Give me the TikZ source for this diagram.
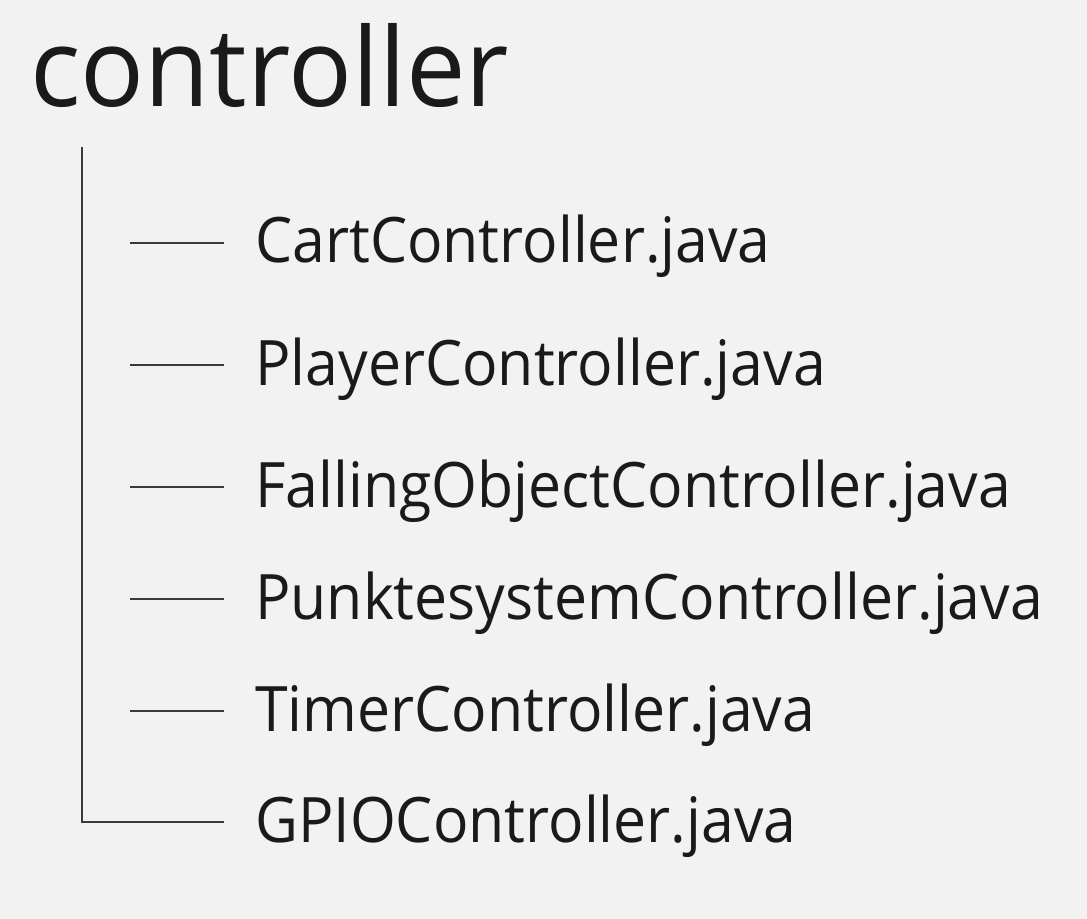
\documentclass[tikz,border=0pt]{standalone}
\usepackage{fontspec}
\setmainfont{Open Sans}
\newfontfamily\titlefont[FakeStretch=0.97]{Open Sans}
\newfontfamily\filefont[FakeStretch=0.94]{Open Sans}
\usetikzlibrary{calc}
\definecolor{bgcol}{HTML}{F2F2F2}
\definecolor{txtcol}{HTML}{1A1A1A}
\definecolor{linecol}{HTML}{3A3A3A}

\begin{document}
\begin{tikzpicture}[x=0.75pt,y=-0.75pt,
folder/.style={anchor=base west,inner sep=0pt,text=txtcol,font=\titlefont\fontsize{82}{98}\selectfont},
file/.style={anchor=base west,inner sep=0pt,text=txtcol,font=\filefont\fontsize{47}{56}\selectfont},
branch/.style={draw=linecol,line width=1.1pt}]
\fill[bgcol] (0,0) rectangle (1087,919);
\useasboundingbox (0,0) rectangle (1087,919);

\node[folder] (ctrl) at (30,107) {controller};

\node[file] (cart)    at (255,263) {CartController.java};
\node[file] (player)  at (255,385) {PlayerController.java};
\node[file] (falling) at (255,507) {FallingObjectController.java};
\node[file] (punkte)  at (255,619) {PunktesystemController.java};
\node[file] (timer)   at (255,731) {TimerController.java};
\node[file] (gpio)    at (255,842) {GPIOController.java};

% tree lines
\coordinate (trunk) at ($(ctrl.base west)+(52,40)$);
\foreach \f in {cart,player,falling,punkte,timer}
  \draw[branch] ($(\f.base west)+(-31,-20)$) -- ++(-94,0);
\draw[branch] (trunk) |- ($(gpio.base west)+(-31,-20)$);
\end{tikzpicture}
\end{document}
